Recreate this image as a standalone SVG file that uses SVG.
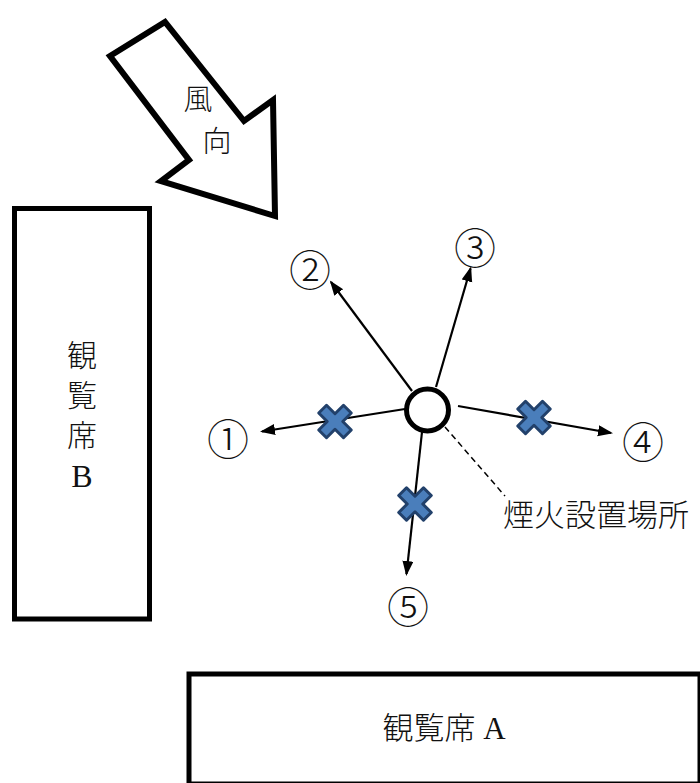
<svg xmlns="http://www.w3.org/2000/svg" width="700" height="783" viewBox="0 0 700 783">
<defs>
<style>
.box{fill:#fff;stroke:#000;stroke-width:5}
.lbl{font-family:"Liberation Serif","Noto Sans CJK JP",serif;font-weight:300;fill:#111;dominant-baseline:central}
.num{font-family:"Noto Sans CJK JP","Liberation Serif",serif;font-weight:300;fill:#111;dominant-baseline:central;text-anchor:middle;font-size:42px}
.arr{stroke:#000;stroke-width:2.2;fill:none;marker-end:url(#ah)}
.cross{fill:#4A7EBB;stroke:#22416B;stroke-width:3;stroke-linejoin:round}
</style>
<marker id="ah" markerUnits="userSpaceOnUse" markerWidth="16" markerHeight="12" refX="13" refY="5.5" orient="auto">
<path d="M0,0 L15,5.5 L0,11 z" fill="#000"/>
</marker>
<path id="x" d="M-5.5,-17.5 L5.5,-17.5 L5.5,-5.5 L17.5,-5.5 L17.5,5.5 L5.5,5.5 L5.5,17.5 L-5.5,17.5 L-5.5,5.5 L-17.5,5.5 L-17.5,-5.5 L-5.5,-5.5 Z"/>
</defs>
<rect width="700" height="783" fill="#fff"/>

<g id="wind">
<polygon points="110,56 165,22 244,121 273,100 275,216 161,181 189,160" fill="#fff" stroke="#000" stroke-width="6" stroke-linejoin="miter"/>
<text class="lbl" x="198" y="100" font-size="29" text-anchor="middle">風</text>
<text class="lbl" x="217" y="142" font-size="29" text-anchor="middle">向</text>
</g>

<g id="seatB">
<rect class="box" x="14.5" y="208.5" width="135" height="410.5"/>
<text class="lbl" x="82" y="355" font-size="30" text-anchor="middle">観</text>
<text class="lbl" x="82" y="395" font-size="30" text-anchor="middle">覧</text>
<text class="lbl" x="82" y="435" font-size="30" text-anchor="middle">席</text>
<text class="lbl" x="82" y="476" font-size="32" text-anchor="middle">B</text>
</g>

<g id="seatA">
<rect class="box" x="189" y="674" width="511" height="110"/>
<text class="lbl" x="444" y="728" font-size="31" text-anchor="middle">観覧席 A</text>
</g>

<g id="connectors">
<line class="arr" x1="405" y1="409" x2="262" y2="431.5"/>
<line class="arr" x1="412" y1="391" x2="331" y2="282"/>
<line class="arr" x1="436" y1="387" x2="470.5" y2="268.5"/>
<line class="arr" x1="458" y1="406" x2="611" y2="433"/>
<line class="arr" x1="422" y1="432" x2="406.5" y2="574"/>
<line x1="445" y1="427" x2="505" y2="496" stroke="#000" stroke-width="1.5" stroke-dasharray="6,4"/>
</g>

<g id="site">
<circle cx="427.5" cy="410" r="21" fill="#fff" stroke="#000" stroke-width="5"/>
<text class="lbl" x="503" y="515" font-size="31">煙火設置場所</text>
</g>

<g id="crosses">
<use href="#x" class="cross" transform="translate(335,421.5) rotate(45)"/>
<use href="#x" class="cross" transform="translate(534,417.5) rotate(45)"/>
<use href="#x" class="cross" transform="translate(415,504) rotate(45)"/>
</g>

<g id="labels">
<text class="num" x="228" y="436.5">①</text>
<text class="num" x="310" y="267.5">②</text>
<text class="num" x="475" y="245.5">③</text>
<text class="num" x="643" y="439.5">④</text>
<text class="num" x="408" y="604.5">⑤</text>
</g>
</svg>
